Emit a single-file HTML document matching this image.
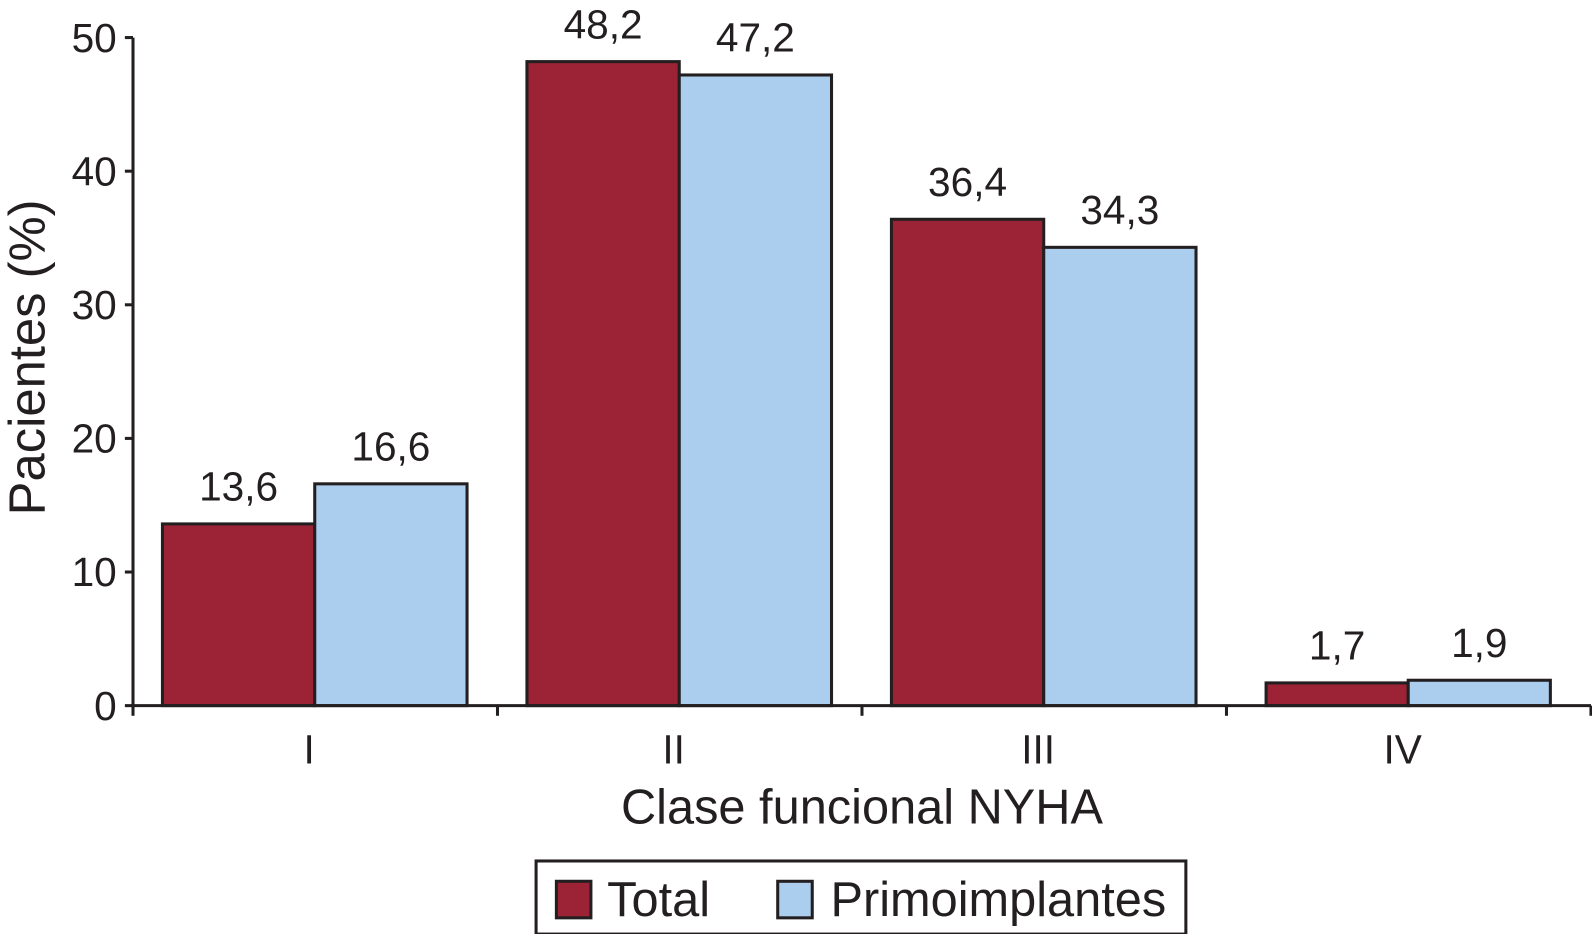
<!DOCTYPE html>
<html><head><meta charset="utf-8"><style>
body{margin:0;background:#fff;font-family:"Liberation Sans",sans-serif}
svg{display:block}
text{font-family:"Liberation Sans",sans-serif;fill:#231f20}
</style></head><body>
<svg id="chart" width="1592" height="934" viewBox="0 0 1592 934"><g id="root" transform="scale(1.0153)"></g></svg>
<script>
const categories=["I","II","III","IV"];
const totalValues=[13.6,48.2,36.4,1.7];
const primoValues=[16.6,47.2,34.3,1.9];
const totalLabels=["13,6","48,2","36,4","1,7"];
const primoLabels=["16,6","47,2","34,3","1,9"];
const yTicks=[0,10,20,30,40,50];
const svg=document.getElementById('root');
const NS='http://www.w3.org/2000/svg';
const x0=131,catW=359,y0=695,yMax=50,plotH=658;
function y(v){return y0-v/yMax*plotH;}
function cx(i){return x0+catW*i;}
function mk(t,a,parent){const e=document.createElementNS(NS,t);for(const k in a)e.setAttribute(k,a[k]);(parent||svg).appendChild(e);return e;}
const offs=[29,29,29,39];
const bw=[150,150,150,140];
for(let i=0;i<categories.length;i++){
  const bx=cx(i)+offs[i];
  const r=mk('rect',{x:bx,y:y(totalValues[i]),width:bw[i],height:y0-y(totalValues[i]),fill:'#9b2335',stroke:'#231f20','stroke-width':3});
  
  
  const b=mk('rect',{x:bx+bw[i],y:y(primoValues[i]),width:bw[i],height:y0-y(primoValues[i]),fill:'#abcdee',stroke:'#231f20','stroke-width':3});
  
  
  const t1=mk('text',{x:bx+bw[i]/2,y:y(totalValues[i])-23,'font-size':40,'text-anchor':'middle'});t1.textContent=totalLabels[i];
  
  
  const t2=mk('text',{x:bx+bw[i]*1.5,y:y(primoValues[i])-23,'font-size':40,'text-anchor':'middle'});t2.textContent=primoLabels[i];
  
  
  const cl=mk('text',{x:cx(i)+catW/2-6,y:752,'font-size':40,'text-anchor':'middle'});cl.textContent=categories[i];
  
  
}
const ax=mk('path',{d:`M${x0} ${y(yMax)} V${y0} H${x0+catW*4}`,stroke:'#231f20','stroke-width':3,fill:'none'});


for(const v of yTicks){
  mk('line',{x1:x0-8,x2:x0,y1:y(v),y2:y(v),stroke:'#231f20','stroke-width':3});
  const t=mk('text',{x:x0-16,y:y(v)+14,'font-size':40,'text-anchor':'end'});t.textContent=v;
  
  
}
for(let i=0;i<=4;i++)mk('line',{x1:cx(i),x2:cx(i),y1:y0,y2:y0+10,stroke:'#231f20','stroke-width':3});
const yt=mk('text',{x:0,y:0,'font-size':50,'text-anchor':'middle',transform:'translate(44,352) rotate(-90)'});yt.textContent='Pacientes (%)';


const xt=mk('text',{x:849,y:811,'font-size':48,'text-anchor':'middle'});xt.textContent='Clase funcional NYHA';


const lg=mk('g',{});


mk('rect',{x:528,y:848,width:640,height:72,fill:'#fff',stroke:'#231f20','stroke-width':3},lg);
mk('rect',{x:548,y:868,width:34,height:36,fill:'#9b2335',stroke:'#231f20','stroke-width':3},lg);
const l1=mk('text',{x:598,y:902,'font-size':48},lg);l1.textContent='Total';
mk('rect',{x:766,y:868,width:34,height:36,fill:'#abcdee',stroke:'#231f20','stroke-width':3},lg);
const l2=mk('text',{x:818,y:902,'font-size':48},lg);l2.textContent='Primoimplantes';
</script>
</body></html>
